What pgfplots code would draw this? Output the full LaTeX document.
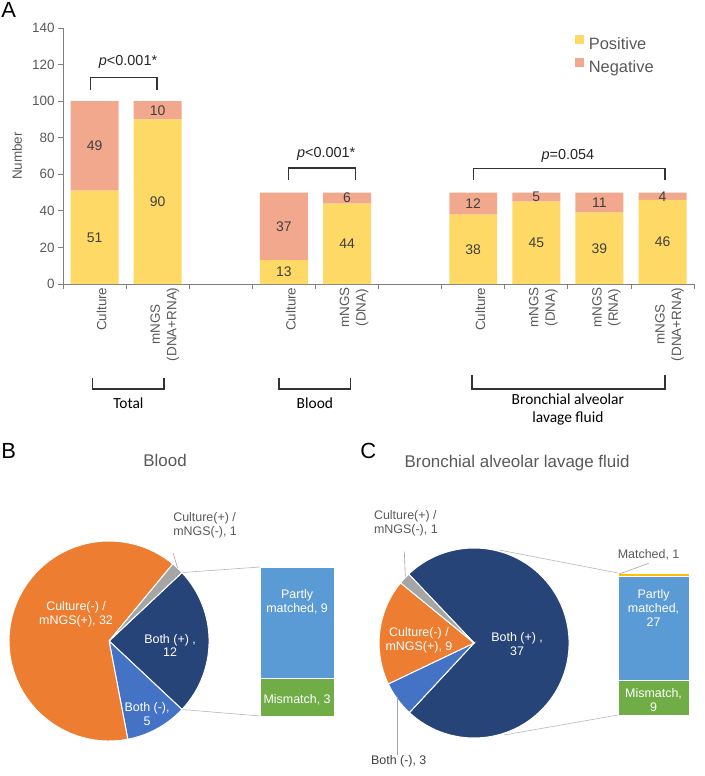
\documentclass[border=0pt]{standalone}
\usepackage{pgfplots}
\pgfplotsset{compat=1.18}
\usepackage{fontspec}
\setmainfont{Liberation Sans}
\newfontfamily\calibri{Carlito}

\definecolor{posY}{HTML}{FFD966}
\definecolor{negS}{HTML}{F2A88C}
\definecolor{axgray}{HTML}{7F7F7F}
\definecolor{lblgray}{HTML}{595959}
\definecolor{valgray}{HTML}{404040}
\definecolor{navy}{HTML}{264478}
\definecolor{midblue}{HTML}{4472C4}
\definecolor{pieorange}{HTML}{ED7D31}
\definecolor{piegray}{HTML}{A5A5A5}
\definecolor{partly}{HTML}{5B9BD5}
\definecolor{mismatch}{HTML}{70AD47}
\definecolor{matched}{HTML}{FFC000}

% pie wedges, angles taken from the counts
\newcommand\pieinit[2]{\xdef\pstart{#1}\xdef\prad{#2}\xdef\pcum{0}}
\newcommand\pieslice[3]{%
  \pgfmathsetmacro\aA{\pstart-\pcum/#2*360}%
  \pgfmathsetmacro\aB{\pstart-(\pcum+#1)/#2*360}%
  \edef\tmp{\noexpand\fill[#3,draw=white,line width=1bp] (axis cs:0,0) -- (axis cs:{cos(\aA)},{sin(\aA)}) arc[start angle=\aA, end angle=\aB, radius=\prad bp] -- cycle;}%
  \tmp
  \pgfmathsetmacro\ncum{\pcum+#1}\xdef\pcum{\ncum}%
}

\tikzset{
  val/.style={text=valgray, font=\fontsize{14}{16}\selectfont},
  pv/.style={text=black!85, font=\fontsize{14.5}{17}\selectfont},
  brk/.style={draw=black!80, line width=1.3bp},
  grp/.style={text=black, font=\calibri\fontsize{15.5}{18}\selectfont, align=center},
  inlab/.style={text=white, font=\fontsize{12.5}{14}\selectfont, align=center},
  outlab/.style={text=lblgray, font=\fontsize{12.5}{14}\selectfont, align=left},
  lead/.style={draw=piegray, line width=0.6bp},
}
\pgfplotsset{
  topgeom/.style={at={(topO)}, anchor=south west, scale only axis,
    width=631bp, height=256bp, xmin=-0.5, xmax=9.5, ymin=0, ymax=140, clip=false},
  barBgeom/.style={at={(barB)}, anchor=south west, scale only axis, width=74bp, height=149bp,
    xmin=-0.5, xmax=0.5, ymin=0, ymax=12, hide axis, clip=false},
  barCgeom/.style={at={(barC)}, anchor=south west, scale only axis, width=71bp, height=142bp,
    xmin=-0.5, xmax=0.5, ymin=0, ymax=37, hide axis, clip=false},
}

\begin{document}
\begin{tikzpicture}
\begin{scope}[x=1bp,y=-1bp]
  \useasboundingbox (0,0) rectangle (696,776);
  \coordinate (topO) at (62,284);
  \coordinate (pieB) at (108,641);
  \coordinate (barB) at (259,716);
  \coordinate (pieC) at (473,643);
  \coordinate (barC) at (617,715);
  \node[anchor=base west, inner sep=0, font=\fontsize{22}{26}\selectfont] at (0,17.5) {A};
  \node[anchor=base west, inner sep=0, font=\fontsize{22}{26}\selectfont] at (0,458) {B};
  \node[anchor=base west, inner sep=0, font=\fontsize{22}{26}\selectfont] at (359,458) {C};
  \node[anchor=base, inner sep=0, text=lblgray, font=\fontsize{17}{20}\selectfont] at (164,466) {Blood};
  \node[anchor=base, inner sep=0, text=lblgray, font=\fontsize{17}{20}\selectfont] at (516,467) {Bronchial alveolar lavage fluid};
  % bar-of-pie connectors
  \draw[draw=piegray!80, line width=0.6bp] (181,572.5) -- (259,567);
  \draw[draw=piegray!80, line width=0.6bp] (181,709.5) -- (259,716);
  \draw[draw=piegray!80, line width=0.6bp] (498,550) -- (617,573);
  \draw[draw=piegray!80, line width=0.6bp] (503,735) -- (617,715);
\end{scope}

% ---------- A: stacked bars ----------
\begin{axis}[
  topgeom,
  ybar stacked, bar width=0.76,
  axis x line*=bottom, axis y line*=left,
  axis line style={draw=axgray, line width=0.9bp},
  tick align=outside, major tick length=5bp,
  tick style={draw=axgray, line width=0.9bp},
  ytick={0,20,...,140},
  xtick={-0.5,0.5,...,9.5}, xticklabels={},
  extra x ticks={0,1,3,4,6,7,8,9},
  extra x tick labels={Culture,{mNGS\\(DNA+RNA)},Culture,{mNGS\\(DNA)},Culture,{mNGS\\(DNA)},{mNGS\\(RNA)},{mNGS\\(DNA+RNA)}},
  extra x tick style={major tick length=0pt},
  xticklabel style={rotate=90, anchor=east, align=center, yshift=-7bp,
    font=\fontsize{13.5}{16.5}\selectfont, text=lblgray},
  yticklabel style={font=\fontsize{13.5}{16}\selectfont, text=lblgray},
  /pgf/number format/assume math mode=true,
  ylabel={Number},
  ylabel style={at={(axis description cs:-0.073,0.5)}, anchor=center, rotate=0,
    font=\fontsize{13.5}{16}\selectfont, text=lblgray},
  legend style={at={(axis description cs:0.8115,0.975)}, anchor=north west,
    draw=none, fill=none, inner sep=0pt, row sep=6bp,
    font=\fontsize{16.5}{19}\selectfont, text=lblgray,
    nodes={inner sep=0pt, text height=12bp, text depth=3bp},
    /tikz/every odd column/.append style={column sep=4.5bp}},
  legend cell align=left,
  legend image code/.code={\fill[#1] (0bp,1bp) rectangle (9bp,10bp);},
]
\addplot[fill=posY, draw=none, legend image code/.code={\fill[posY] (0bp,1bp) rectangle (9bp,10bp);}]
  coordinates {(0,51) (1,90) (3,13) (4,44) (6,38) (7,45) (8,39) (9,46)};
\addplot[fill=negS, draw=none, legend image code/.code={\fill[negS] (0bp,1bp) rectangle (9bp,10bp);}]
  coordinates {(0,49) (1,10) (3,37) (4,6) (6,12) (7,5) (8,11) (9,4)};
\legend{Positive,Negative}
% p-value brackets
\draw[brk] (axis cs:-0.07,106) -- (axis cs:-0.07,113) -- (axis cs:0.99,113) -- (axis cs:0.99,106);
\node[pv] at (axis cs:0.53,121.4) {\textit{p}<0.001*};
\draw[brk] (axis cs:3.07,56.9) -- (axis cs:3.07,63.4) -- (axis cs:4.13,63.4) -- (axis cs:4.13,56.9);
\node[pv] at (axis cs:3.67,71.3) {\textit{p}<0.001*};
\draw[brk] (axis cs:6.0,57) -- (axis cs:6.0,63.2) -- (axis cs:9.04,63.2) -- (axis cs:9.04,57);
\node[pv] at (axis cs:7.5,69.8) {\textit{p}=0.054};
% group brackets under the labels
\draw[brk] (axis cs:-0.03,-51.5) -- (axis cs:-0.03,-57.4) -- (axis cs:1.1,-57.4) -- (axis cs:1.1,-51.5);
\node[grp] at (axis cs:0.535,-65.1) {Total};
\draw[brk] (axis cs:2.92,-51.5) -- (axis cs:2.92,-57.4) -- (axis cs:4.05,-57.4) -- (axis cs:4.05,-51.5);
\node[grp] at (axis cs:3.49,-65.1) {Blood};
\draw[brk] (axis cs:5.98,-49.5) -- (axis cs:5.98,-57.4) -- (axis cs:9.04,-57.4) -- (axis cs:9.04,-49.5);
\node[grp] at (axis cs:7.5,-68.4) {Bronchial alveolar\\lavage fluid};
\end{axis}
% value labels on top of the bars, centred in each segment
\begin{axis}[topgeom, hide axis]
\node[val] at (axis cs:0,25.5) {51};  \node[val] at (axis cs:0,75.5) {49};
\node[val] at (axis cs:1,45)   {90};  \node[val] at (axis cs:1,95)   {10};
\node[val] at (axis cs:3,6.5)  {13};  \node[val] at (axis cs:3,31.5) {37};
\node[val] at (axis cs:4,22)   {44};  \node[val] at (axis cs:4,47)   {6};
\node[val] at (axis cs:6,19)   {38};  \node[val] at (axis cs:6,44)   {12};
\node[val] at (axis cs:7,22.5) {45};  \node[val] at (axis cs:7,47.5) {5};
\node[val] at (axis cs:8,19.5) {39};  \node[val] at (axis cs:8,44.5) {11};
\node[val] at (axis cs:9,23)   {46};  \node[val] at (axis cs:9,48)   {4};
\end{axis}

% ---------- B: blood pie ----------
\begin{axis}[at={(pieB)}, anchor=center, scale only axis, width=200bp, height=200bp,
  xmin=-1, xmax=1, ymin=-1, ymax=1, hide axis, clip=false]
\pieinit{43.2}{100}
\pieslice{12}{50}{navy}
\pieslice{5}{50}{midblue}
\pieslice{32}{50}{pieorange}
\pieslice{1}{50}{piegray}
\node[inlab] at (axis cs:-0.33,0.265) {Culture(-) /\\mNGS(+), 32};
\node[inlab] at (axis cs:0.61,-0.045) {Both (+) ,\\12};
\node[inlab] at (axis cs:0.38,-0.735) {Both (-),\\5};
\node[outlab, anchor=west, inner sep=0pt] at (axis cs:0.64,1.16) {Culture(+) /\\mNGS(-), 1};
\draw[lead] (axis cs:0.64,0.88) -- (axis cs:0.685,0.73);
\end{axis}

\begin{axis}[barBgeom, ybar stacked, bar width=74bp]
\addplot[fill=mismatch, draw=white, line width=1bp] coordinates {(0,3)};
\addplot[fill=partly, draw=white, line width=1bp] coordinates {(0,9)};
\end{axis}
\begin{axis}[barBgeom]
\node[inlab] at (axis cs:0,9.18) {Partly\\matched, 9};
\node[inlab] at (axis cs:0,1.29) {Mismatch, 3};
\end{axis}

% ---------- C: BALF pie ----------
\begin{axis}[at={(pieC)}, anchor=center, scale only axis, width=190bp, height=190bp,
  xmin=-1, xmax=1, ymin=-1, ymax=1, hide axis, clip=false]
\pieinit{133.5}{95}
\pieslice{37}{50}{navy}
\pieslice{3}{50}{midblue}
\pieslice{9}{50}{pieorange}
\pieslice{1}{50}{piegray}
\node[inlab] at (axis cs:-0.58,0.026) {Culture(-) /\\mNGS(+), 9};
\node[inlab] at (axis cs:0.453,-0.007) {Both (+) ,\\37};
\node[outlab, anchor=west, inner sep=0pt] at (axis cs:-1.055,1.256) {Culture(+) /\\mNGS(-), 1};
\draw[lead] (axis cs:-0.734,0.961) -- (axis cs:-0.724,0.698);
\node[outlab, text=valgray, anchor=center] at (axis cs:-0.793,-1.249) {Both (-), 3};
\draw[lead] (axis cs:-0.81,-0.565) -- (axis cs:-0.81,-1.179);
\end{axis}

\begin{axis}[barCgeom, ybar stacked, bar width=71bp]
\addplot[fill=mismatch, draw=white, line width=1bp] coordinates {(0,9)};
\addplot[fill=partly, draw=white, line width=1bp] coordinates {(0,27)};
\addplot[fill=matched, draw=white, line width=0.5bp] coordinates {(0,1)};
\end{axis}
\begin{axis}[barCgeom]
\node[inlab] at (axis cs:0,27.8) {Partly\\matched,\\27};
\node[inlab] at (axis cs:0,3.9) {Mismatch,\\9};
\node[outlab, anchor=center] at (axis cs:-0.07,41.7) {Matched, 1};
\draw[lead] (axis cs:-0.07,39.5) -- (axis cs:-0.49,36.7);
\end{axis}
\end{tikzpicture}
\end{document}
